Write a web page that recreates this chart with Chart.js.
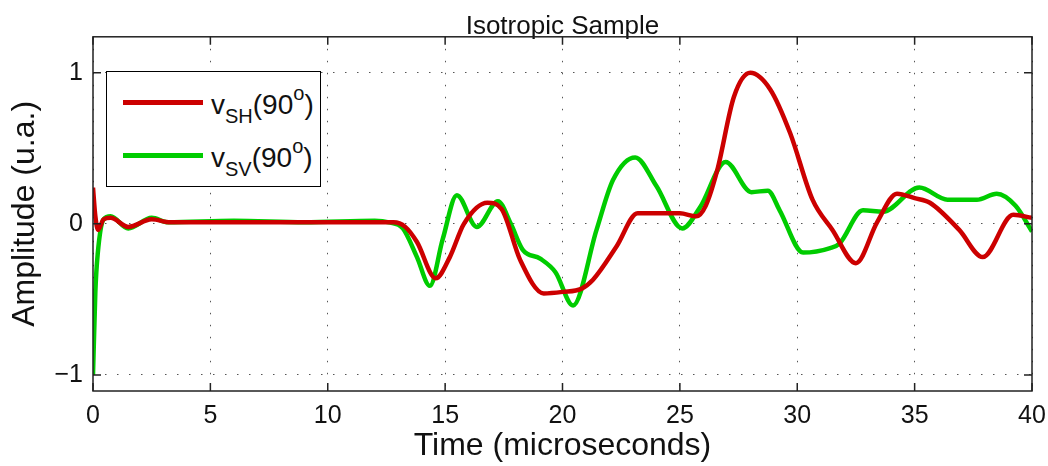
<!DOCTYPE html>
<html>
<head>
<meta charset="utf-8">
<script src="https://cdn.jsdelivr.net/npm/chart.js@4"></script>
<style>
  body { margin: 0; background: #fff; }
  #wrap { position: relative; width: 1048px; height: 466px; }
  #legend {
    position: absolute; background: #fff; border: 1.5px solid #000;
    font-family: "Liberation Sans", Arial, sans-serif; font-size: 28px; color: #111;
    box-sizing: border-box;
  }
  #legend .row { position: absolute; left: 0; height: 30px; display: flex; align-items: center; }
  #legend .swatch { display: inline-block; width: 80px; height: 5px; margin-left: 16px; margin-right: 8px; }
  #legend .txt { line-height: 28px; position: relative; top: 2px; }
  #legend sub { font-size: 20px; vertical-align: -9px; line-height: 0; }
  #legend sup { font-size: 20px; vertical-align: 14px; line-height: 0; }
</style>
</head>
<body>
<div id="wrap">
  <canvas id="plot" width="1048" height="466"></canvas>
  <div id="legend">
    <div class="row" style="top:16px"><span class="swatch" style="background:#cc0000"></span><span class="txt">v<sub>SH</sub>(90<sup>o</sup>)</span></div>
    <div class="row" style="top:69px"><span class="swatch" style="background:#00cc00"></span><span class="txt">v<sub>SV</sub>(90<sup>o</sup>)</span></div>
  </div>
</div>
<script>
// values (time in microseconds, amplitude in u.a.)
const shTime = [0, 0.1, 0.22, 0.45, 0.75, 1.5, 2.5, 3.3, 6, 9, 12, 12.8, 13.3, 13.8, 14.6, 15.2, 15.8, 16.8, 17.4, 18.2, 19.2, 20.0, 20.8, 21.3, 22.3, 23.2, 24.2, 25.0, 25.7, 26.1, 26.6, 27.3, 28.0, 28.85, 29.7, 30.65, 31.5, 32.5, 33.4, 34.25, 35.0, 35.65, 36.9, 37.9, 39.2, 40];
const shValues = [0.24, 0.05, -0.04, 0.03, 0.04, -0.02, 0.03, 0.01, 0.01, 0.01, 0.01, 0.01, -0.02, -0.12, -0.36, -0.22, 0.0, 0.14, 0.10, -0.24, -0.46, -0.45, -0.43, -0.37, -0.15, 0.07, 0.07, 0.07, 0.05, 0.12, 0.36, 0.84, 1.0, 0.89, 0.6, 0.16, -0.04, -0.26, 0.01, 0.2, 0.17, 0.14, -0.04, -0.22, 0.06, 0.04];

const svTime = [0, 0.1, 0.2, 0.45, 0.75, 1.5, 2.5, 3.2, 6, 9, 12, 12.6, 13.2, 13.8, 14.35, 14.9, 15.5, 16.35, 17.25, 17.8, 18.3, 19.05, 19.7, 20.45, 21.45, 22.15, 23.1, 24.0, 25.1, 25.86, 26.95, 28.05, 28.75, 29.25, 30.25, 31.4, 31.8, 32.8, 33.65, 35.2, 36.4, 37.65, 38.5, 39.3, 40];
const svValues = [-1.0, -0.45, -0.2, 0.03, 0.05, -0.03, 0.04, 0.01, 0.02, 0.01, 0.02, 0.01, -0.03, -0.22, -0.41, -0.1, 0.19, -0.02, 0.15, 0.0, -0.17, -0.23, -0.32, -0.54, -0.04, 0.29, 0.44, 0.25, -0.03, 0.11, 0.41, 0.21, 0.22, 0.09, -0.19, -0.16, -0.13, 0.09, 0.08, 0.24, 0.16, 0.16, 0.2, 0.12, -0.05];

const xTicks = [0, 5, 10, 15, 20, 25, 30, 35, 40];
const yTicks = [-1, 0, 1];

const toPoints = (ts, vs) => ts.map((t, i) => ({ x: t, y: vs[i] }));
const FONT = '"Liberation Sans", Arial, sans-serif';

// MATLAB-like frame plus inward tick marks
const framePlugin = {
    id: 'frame',
    afterDraw(chart) {
        const { ctx, chartArea: a, scales } = chart;
        ctx.save();
        ctx.strokeStyle = '#222';
        ctx.lineWidth = 1.5;
        ctx.beginPath();
        xTicks.forEach(v => {
            const px = scales.x.getPixelForValue(v);
            ctx.moveTo(px, a.bottom); ctx.lineTo(px, a.bottom - 8);
            ctx.moveTo(px, a.top); ctx.lineTo(px, a.top + 8);
        });
        yTicks.forEach(v => {
            const py = scales.y.getPixelForValue(v);
            ctx.moveTo(a.left, py); ctx.lineTo(a.left + 8, py);
            ctx.moveTo(a.right, py); ctx.lineTo(a.right - 8, py);
        });
        ctx.stroke();
        ctx.strokeRect(a.left, a.top, a.right - a.left, a.bottom - a.top);
        ctx.restore();
    }
};

const chart = new Chart(document.getElementById('plot'), {
    type: 'line',
    data: {
        datasets: [{
            label: 'vSH(90o)',
            data: toPoints(shTime, shValues),
            borderColor: '#cc0000',
            borderWidth: 4.5,
            pointRadius: 0,
            cubicInterpolationMode: 'monotone'
        }, {
            label: 'vSV(90o)',
            data: toPoints(svTime, svValues),
            borderColor: '#00cc00',
            borderWidth: 4.5,
            pointRadius: 0,
            cubicInterpolationMode: 'monotone'
        }]
    },
    options: {
        responsive: false,
        animation: false,
        layout: { padding: { left: 0, right: 16, top: 0, bottom: 0 } },
        plugins: {
            legend: { display: false },
            tooltip: { enabled: false },
            title: {
                display: true,
                fullSize: false,
                text: 'Isotropic Sample',
                color: '#111',
                font: { family: FONT, size: 26, weight: 'normal', lineHeight: 0.8 },
                padding: { top: 16, bottom: 0 }
            }
        },
        scales: {
            x: {
                type: 'linear',
                min: 0,
                max: 40,
                afterBuildTicks: s => { s.ticks = xTicks.map(v => ({ value: v })); },
                afterFit: s => { s.height = 75; s.paddingLeft = 0; s.paddingRight = 0; },
                ticks: { color: '#111', padding: 10, font: { family: FONT, size: 25 } },
                grid: { color: '#555', lineWidth: 1, drawTicks: false },
                border: { display: false, dash: [1.5, 10.5] },
                title: {
                    display: true,
                    text: 'Time (microseconds)',
                    color: '#111',
                    font: { family: FONT, size: 32 },
                    padding: { top: 0, bottom: 1 }
                }
            },
            y: {
                min: -1.106,
                max: 1.238,
                afterBuildTicks: s => { s.ticks = yTicks.map(v => ({ value: v })); },
                afterFit: s => { s.width = 93; s.paddingTop = 0; s.paddingBottom = 0; },
                ticks: {
                    color: '#111', padding: 10, font: { family: FONT, size: 25 },
                    callback: v => String(v).replace('-', '\u2212')
                },
                grid: { color: '#555', lineWidth: 1, drawTicks: false },
                border: { display: false, dash: [1.5, 10.5] },
                title: {
                    display: true,
                    text: 'Amplitude (u.a.)',
                    color: '#111',
                    font: { family: FONT, size: 32 },
                    padding: { top: 6, bottom: 0 }
                }
            }
        }
    },
    plugins: [framePlugin]
});

// place the legend box inside the plot area (top-left)
const area = chart.chartArea;
const lg = document.getElementById('legend');
lg.style.left = (area.left + 13) + 'px';
lg.style.top = (area.top + 34) + 'px';
lg.style.width = '215px';
lg.style.height = '116px';
</script>
</body>
</html>
